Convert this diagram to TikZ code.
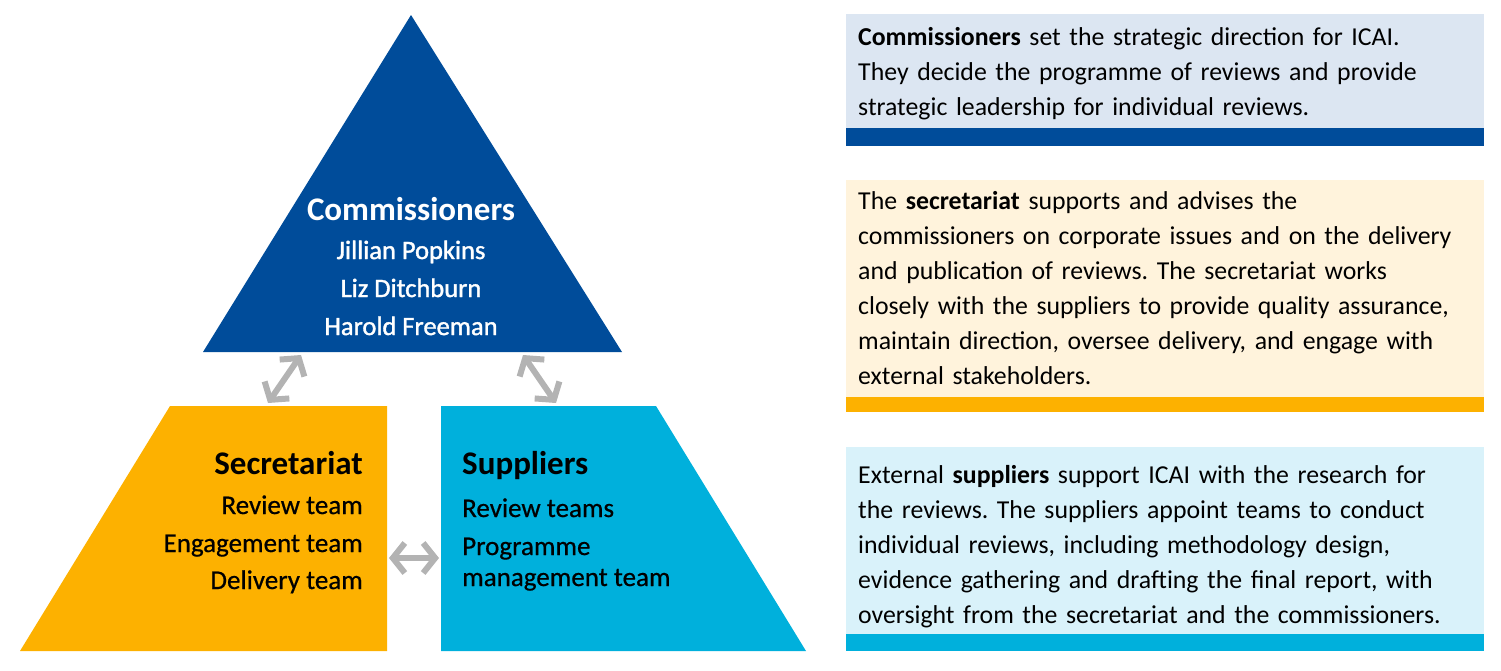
\documentclass[tikz,border=0pt]{standalone}
\usepackage{fontspec}
\setmainfont{Carlito}
\newfontfamily\medfont[FakeBold=0.6]{Carlito}
\newfontfamily\semifont[FakeBold=1.4]{Carlito}
\usetikzlibrary{arrows.meta}
\definecolor{icaiblue}{HTML}{004C9A}
\definecolor{icaiorange}{HTML}{FDB100}
\definecolor{icaicyan}{HTML}{00B0DC}
\definecolor{lightblue}{HTML}{DCE6F2}
\definecolor{lightorange}{HTML}{FFF3DC}
\definecolor{lightcyan}{HTML}{D9F2FA}
\definecolor{arrowgrey}{HTML}{B3B3B3}
\begin{document}
\frenchspacing
\begin{tikzpicture}[x=1pt,y=-1pt,
  garrow/.style={draw=arrowgrey, line width=6pt, {Straight Barb[length=12pt,width=30pt]}-{Straight Barb[length=12pt,width=30pt]}},
  head/.style={inner sep=0pt, font=\fontsize{33}{36}\selectfont\bfseries},
  item/.style={inner sep=0pt, font=\fontsize{27}{30}\selectfont\medfont},
  personlabel/.style={inner sep=0pt, text=white, anchor=base, font=\fontsize{26.5}{30}\selectfont\semifont},
  para/.style={inner sep=0pt, anchor=north west, align=left, text width=630pt, font=\fontsize{25.8}{35}\selectfont}]
\useasboundingbox (0,0) rectangle (1501,670);
% shapes
\fill[icaiblue] (411,15) -- (622,352) -- (203,352) -- cycle;
\fill[icaiorange] (170,406) -- (387,406) -- (387,651) -- (20,651) -- cycle;
\fill[icaicyan] (441,406) -- (656,406) -- (806,651) -- (441,651) -- cycle;
% commissioners text
\node[head, text=white, anchor=base] (comm) at (411,220) {Commissioners};
\node[personlabel] (jp) at (411,259) {Jillian Popkins};
\node[personlabel] (ld) at (411,297) {Liz Ditchburn};
\node[personlabel] (hf) at (411,335) {Harold Freeman};
% secretariat text
\node[head, anchor=base east] (sec) at (363,474) {Secretariat};
\node[item, anchor=base east] (srt) at (363,514) {Review team};
\node[item, anchor=base east] (set) at (363,552) {Engagement team};
\node[item, anchor=base east] (sdt) at (363,589) {Delivery team};
% suppliers text
\node[head, anchor=base west] (sup) at (462,474) {Suppliers};
\node[item, anchor=base west] (srts) at (462,517) {Review teams};
\node[item, anchor=base west] (spm) at (462,555) {Programme};
\node[item, anchor=base west] (smt) at (462,586) {management team};
% arrows
\coordinate (l1) at (301,355);
\coordinate (l2) at (268,403);
\coordinate (r1) at (523,355);
\coordinate (r2) at (556,403);
\coordinate (h1) at (389,558);
\coordinate (h2) at (439,558);
\draw[garrow] (l1) -- (l2);
\draw[garrow] (r1) -- (r2);
\draw[garrow] (h1) -- (h2);
% boxes
\fill[lightblue] (846,14) rectangle (1484,128);
\fill[icaiblue] (846,128) rectangle (1484,146);
\fill[lightorange] (846,180) rectangle (1484,397);
\fill[icaiorange] (846,397) rectangle (1484,412);
\fill[lightcyan] (846,447) rectangle (1484,634);
\fill[icaicyan] (846,634) rectangle (1484,651);
\node[para] (p1) at (858,27) {\textbf{Commissioners} set the strategic direction for ICAI.\\
They decide the programme of reviews and provide\\
strategic leadership for individual reviews.};
\node[para] (p2) at (858,191) {The \textbf{secretariat} supports and advises the\\
commissioners on corporate issues and on the delivery\\
and publication of reviews. The secretariat works\\
closely with the suppliers to provide quality assurance,\\
maintain direction, oversee delivery, and engage with\\
external stakeholders.};
\node[para] (p3) at (858,465) {External \textbf{suppliers} support ICAI with the research for\\
the reviews. The suppliers appoint teams to conduct\\
individual reviews, including methodology design,\\
evidence gathering and drafting the final report, with\\
oversight from the secretariat and the commissioners.};
\end{tikzpicture}
\end{document}
